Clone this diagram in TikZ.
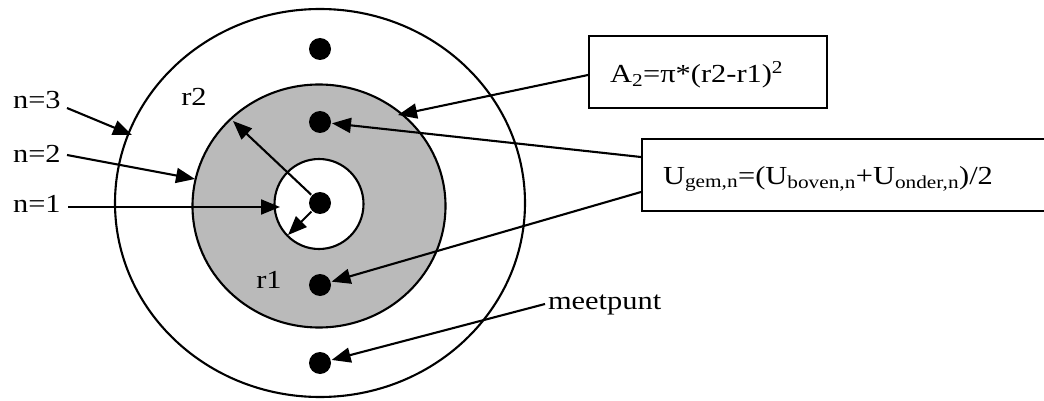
\documentclass[tikz,border=0pt]{standalone}
\usepackage{fontspec}
\setmainfont{Liberation Serif}[FakeStretch=1.17]
\usetikzlibrary{arrows.meta,calc}
\begin{document}
\begin{tikzpicture}[x=1pt,y=-1pt,line width=2.1pt,
  lbl/.style={font=\fontsize{26}{30}\selectfont,inner sep=0pt},
  dotn/.style={circle,fill=black,draw=none,minimum size=22pt,inner sep=0pt},
  arr/.style={-{Triangle[length=19pt,width=15pt]}},
  fbox/.style={draw,font=\fontsize{26}{30}\selectfont,minimum height=72pt,inner xsep=21pt,anchor=north west,align=left,text depth=0pt}]
\useasboundingbox (0,0) rectangle (1044,401);
\clip (0,0) rectangle (1044,401);
% rings
\draw (320,203) ellipse [x radius=205, y radius=194];
\draw[fill=black!27] (319,206) ellipse [x radius=126.5, y radius=121.5];
\draw[fill=white] (319,204) ellipse [x radius=44.5, y radius=45];
% dots
\node[dotn] (d1) at (320,49) {};
\node[dotn] (d2) at (320,122) {};
\node[dotn] (d3) at (320,203) {};
\node[dotn] (d4) at (320,285) {};
\node[dotn] (d5) at (320,363) {};
% labels
\node[lbl,anchor=west] (n3) at (12,100) {n=3};
\node[lbl,anchor=west] (n2) at (12,154) {n=2};
\node[lbl,anchor=west] (n1) at (12,204) {n=1};
\node[lbl] (r2) at (194,97) {r2};
\node[lbl] (r1) at (269,280) {r1};
\node[lbl,anchor=west] (mp) at (547,305) {meetpunt};
% boxes
\node[fbox,minimum width=238pt,text width=196pt] (bA) at (588,35) {A\textsubscript{2}=π*(r2-r1)\textsuperscript{2}};
\node[fbox,minimum width=440pt,text width=398pt] (bU) at (641,138) {U\textsubscript{gem,n}=(U\textsubscript{boven,n}+U\textsubscript{onder,n})/2};
% targets
\coordinate (t3) at (132,135);
\coordinate (t2) at (195,179);
\coordinate (t1) at (280,207);
\coordinate (tr2) at (233,121);
\coordinate (tr1) at (288,235);
\coordinate (tA) at (398,115);
\coordinate (s3) at (67,108);
\coordinate (s2) at (67,155);
\coordinate (s1) at (68,207);
\coordinate (sA) at (588,75);
\coordinate (sU1) at (641,157);
\coordinate (sU2) at (641,192);
\coordinate (sM) at (545,304);
% connectors
\draw[arr] (s3) -- (t3);
\draw[arr] (s2) -- (t2);
\draw[arr] (s1) -- (t1);
\draw[arr] (d3) -- (tr2);
\draw[arr] (d3) -- (tr1);
\draw[arr] (sA) -- (tA);
\draw[arr] (sU1) -- (d2);
\draw[arr] (sU2) -- (d4);
\draw[arr] (sM) -- (d5);
\end{tikzpicture}
\end{document}
